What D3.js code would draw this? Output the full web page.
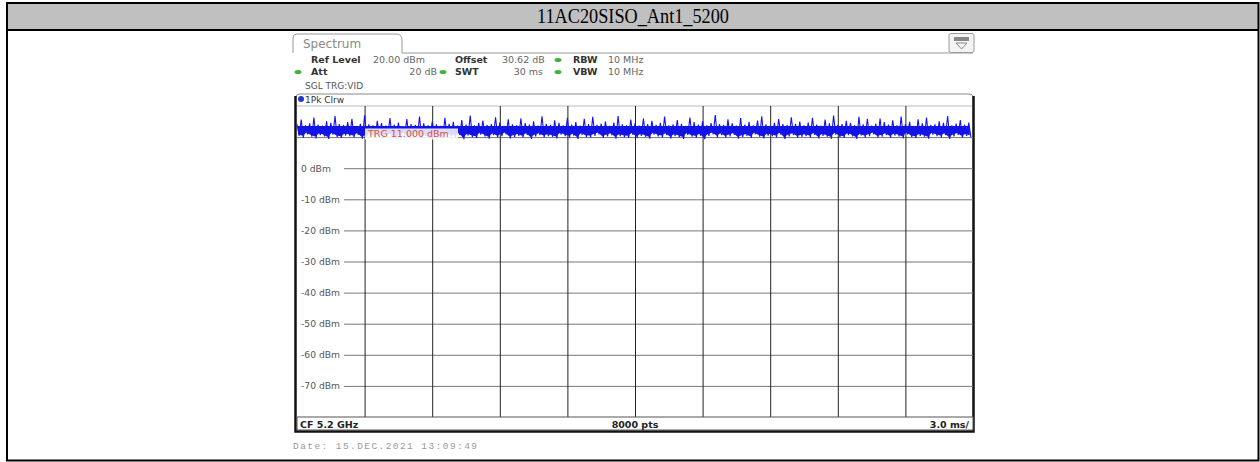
<!DOCTYPE html>
<html>
<head>
<meta charset="utf-8">
<script src="https://cdn.jsdelivr.net/npm/d3@7"></script>
<style>
  body { margin: 0; background: #fff; }
  svg { display: block; }
</style>
</head>
<body>
<svg id="chart" width="1260" height="462"></svg>
<script>
// title of the table cell
const title = "11AC20SISO_Ant1_5200";

// instrument settings shown in the header
const infoRow1 = [["Ref Level", "20.00 dBm"], ["Offset", "30.62 dB"], ["RBW", "10 MHz"]];
const infoRow2 = [["Att", "20 dB"], ["SWT", "30 ms"], ["VBW", "10 MHz"]];
const sweepMode = "SGL TRG:VID";
const traceName = "1Pk Clrw";
const trigLevel = 11.0;          // dBm
const footer = ["CF 5.2 GHz", "8000 pts", "3.0 ms/"];
const dateText = "Date: 15.DEC.2021   13:09:49";

// axes
const refLevel = 20, bottomLevel = -80;
const dbGrid = [10, 0, -10, -20, -30, -40, -50, -60, -70];
const dbLabels = [0, -10, -20, -30, -40, -50, -60, -70];
const sweepMs = 30;
const timeGrid = [3, 6, 9, 12, 15, 18, 21, 24, 27];

// trace: peak / minimum per display bucket (dBm)
const traceHi = [
  14.1,15.6,13.8,14.4,16.3,14.0,13.7,15.1,14.6,16.8,14.2,13.9,14.8,15.9,13.6,14.3,17.0,14.1,13.8,15.2,
  14.5,13.7,16.1,14.0,14.7,13.5,15.8,14.2,13.9,16.6,14.4,13.8,15.0,14.1,13.6,16.2,14.3,14.9,13.7,15.5,
  14.0,16.9,13.8,14.6,15.3,13.9,14.2,16.4,14.7,13.6,15.7,14.1,13.8,16.0,14.5,14.0,15.1,13.7,16.7,14.3,
  13.9,15.4,14.6,13.8,16.2,14.0,14.8,13.7,15.9,14.2,16.5,13.9,14.3,15.0,13.6,14.7,16.8,14.1,13.8,15.6,
  14.4,13.7,16.0,14.2,15.2,13.9,14.6,16.6,13.8,14.1,15.5,14.3,13.6,16.3,14.8,14.0,15.1,13.8,14.5,17.1,
  14.2,13.9,15.7,14.4,13.7,16.1,14.0,14.9,13.8,15.3,16.7,14.1,13.6,14.6,15.8,14.2,13.9,16.4,14.3,15.0,
  13.8,14.7,16.2,14.0,13.7,15.6,14.4,16.9,13.9,14.2,15.2,14.6,13.8,16.5,14.1,15.9,13.7,14.3,16.0,14.8,
  14.0,15.4,13.8,16.6,14.2,14.9,13.6,15.7,14.4,16.3,13.9,14.1,15.1,14.6,16.8,13.8,14.3,15.5,14.0,14.7
];
const traceLo = [
  10.4,9.8,10.9,10.1,9.6,10.6,10.2,9.4,10.8,10.0,9.7,10.5,10.3,9.9,10.7,9.5,10.1,10.6,9.8,10.3,
  9.9,10.7,10.2,9.5,10.4,10.9,9.7,10.1,10.6,9.8,10.3,9.4,10.8,10.0,9.6,10.5,10.2,9.9,10.7,9.3,
  10.5,10.0,9.7,10.8,10.2,9.5,10.6,9.9,10.3,10.9,9.6,10.1,10.4,9.8,10.7,9.4,10.2,10.6,9.9,10.3,
  10.1,9.6,10.8,10.3,9.8,10.5,9.4,10.7,10.0,9.9,10.4,10.9,9.7,10.2,10.6,9.5,10.3,10.0,9.8,10.7,
  9.7,10.4,10.1,9.5,10.8,10.2,9.9,10.6,9.6,10.3,10.0,9.4,10.7,10.1,9.8,10.5,9.3,10.4,10.9,9.9,
  10.6,9.8,10.2,10.7,9.5,10.0,10.4,9.7,10.9,10.1,9.6,10.5,10.3,9.9,10.8,9.4,10.2,10.6,9.8,10.1,
  10.3,9.9,10.7,9.6,10.4,10.1,9.5,10.8,10.0,9.7,10.6,10.2,9.4,10.5,9.9,10.3,10.9,9.8,10.1,10.6,
  9.8,10.5,10.2,9.6,10.9,10.0,9.7,10.4,10.1,9.5,10.8,10.3,9.9,10.6,9.4,10.2,10.7,9.8,10.4,10.0
];
const bodyTop = 13.6;   // upper edge of the solid part of the noise band (dBm)

const svg = d3.select("#chart");
const sans = "DejaVu Sans, sans-serif";
const blue = "#1414e6";

// ---- outer table cell ----
svg.append("rect")
  .attr("x", 7).attr("y", 3).attr("width", 1251.5).attr("height", 27)
  .attr("fill", "#c0c0c0");
svg.append("rect")
  .attr("x", 7).attr("y", 3).attr("width", 1251.5).attr("height", 457.5)
  .attr("fill", "none").attr("stroke", "#000").attr("stroke-width", 2);
svg.append("line")
  .attr("x1", 7).attr("x2", 1258.5).attr("y1", 30).attr("y2", 30)
  .attr("stroke", "#000").attr("stroke-width", 2);
svg.append("text")
  .attr("x", 633).attr("y", 23)
  .attr("text-anchor", "middle")
  .attr("font-family", "Liberation Serif, Times New Roman, serif")
  .attr("font-size", 20)
  .attr("textLength", 192).attr("lengthAdjust", "spacingAndGlyphs")
  .text(title);

// ---- scales ----
const x = d3.scaleLinear().domain([0, sweepMs]).range([297, 973]);
const y = d3.scaleLinear().domain([bottomLevel, refLevel]).range([417, 106]);
const plotW = x.range()[1] - x.range()[0];
const plotH = y.range()[0] - y.range()[1];

// ---- screenshot header ----
const hdr = svg.append("g");
hdr.append("path")
  .attr("d", "M293,53 L293,38 Q293,34 297,34 L396,34 Q402,34 402,40 L402,53 L973,53")
  .attr("fill", "none").attr("stroke", "#999").attr("stroke-width", 1);
hdr.append("text")
  .attr("x", 303).attr("y", 48)
  .attr("font-family", sans).attr("font-size", 12).attr("fill", "#8a8a8a")
  .text("Spectrum");

// small menu icon, top right
hdr.append("rect")
  .attr("x", 949).attr("y", 33.5).attr("width", 25).attr("height", 19).attr("rx", 2)
  .attr("fill", "#f4f4f4").attr("stroke", "#999");
hdr.append("rect")
  .attr("x", 954).attr("y", 37).attr("width", 15).attr("height", 4)
  .attr("fill", "#888");
hdr.append("path")
  .attr("d", "M956,43 L967,43 L961.5,49 Z")
  .attr("fill", "none").attr("stroke", "#888");

const labelCols = [311, 455, 573];
function infoRow(row, yy, valueAnchors) {
  row.forEach(function(d, i) {
    hdr.append("text")
      .attr("x", labelCols[i]).attr("y", yy)
      .attr("font-family", sans).attr("font-size", 9.5).attr("font-weight", "bold")
      .attr("fill", "#333").text(d[0]);
    hdr.append("text")
      .attr("x", valueAnchors[i][0]).attr("y", yy)
      .attr("text-anchor", valueAnchors[i][1])
      .attr("font-family", sans).attr("font-size", 9.5)
      .attr("fill", "#666").text(d[1]);
  });
}
infoRow(infoRow1, 63, [[373, "start"], [502, "start"], [608, "start"]]);
infoRow(infoRow2, 75, [[437, "end"], [543, "end"], [608, "start"]]);

// green status dots
[[558, 60], [298, 72], [443, 72], [558, 72]].forEach(function(p) {
  hdr.append("ellipse")
    .attr("cx", p[0]).attr("cy", p[1]).attr("rx", 3.5).attr("ry", 2)
    .attr("fill", "#3cb43c");
});
hdr.append("text")
  .attr("x", 305).attr("y", 89)
  .attr("font-family", sans).attr("font-size", 9).attr("fill", "#555")
  .text(sweepMode);

// ---- diagram frame ----
const frame = svg.append("g");
frame.append("path")
  .attr("d", "M295.5,431 L295.5,99 Q295.5,94 300,94 L969,94 Q973.5,94 973.5,99 L973.5,431")
  .attr("fill", "none").attr("stroke", "#888").attr("stroke-width", 1);
frame.append("circle")
  .attr("cx", 301).attr("cy", 99).attr("r", 3).attr("fill", "#2236c8");
frame.append("text")
  .attr("x", 305).attr("y", 102.5)
  .attr("font-family", sans).attr("font-size", 9).attr("fill", "#333")
  .text(traceName);
frame.append("line")
  .attr("x1", 297).attr("x2", 973).attr("y1", 106).attr("y2", 106)
  .attr("stroke", "#bbb");

// ---- grid via axes ----
const gridY = d3.axisRight(y).tickValues(dbGrid).tickSize(plotW).tickFormat("");
svg.append("g")
  .attr("transform", "translate(" + x.range()[0] + ",0)")
  .call(gridY)
  .call(g => g.select(".domain").remove())
  .call(g => g.selectAll("line").attr("stroke", "#777").attr("stroke-width", 1));

const gridX = d3.axisBottom(x).tickValues(timeGrid).tickSize(-plotH).tickFormat("");
svg.append("g")
  .attr("transform", "translate(0," + y.range()[0] + ")")
  .call(gridX)
  .call(g => g.select(".domain").remove())
  .call(g => g.selectAll("line").attr("stroke", "#222").attr("stroke-width", 1));

// level labels sit on the grid lines with a white background
const lbl = svg.append("g").selectAll("g")
  .data(dbLabels)
  .join("g")
  .attr("transform", d => "translate(297," + y(d) + ")");
lbl.append("rect")
  .attr("x", 0).attr("y", -5).attr("width", 47).attr("height", 10)
  .attr("fill", "#fff");
lbl.append("text")
  .attr("x", 4).attr("y", 3.5)
  .attr("font-family", sans).attr("font-size", 9.2).attr("fill", "#555")
  .text(d => d + " dBm");

// ---- trace ----
const dt = sweepMs / traceHi.length;

// solid body of the noise band
svg.append("path")
  .datum(traceHi.map((v, i) => [i * dt + dt / 4, Math.min(v, bodyTop), traceLo[i]]))
  .attr("fill", blue)
  .attr("d", d3.area().x(d => x(d[0])).y1(d => y(d[1])).y0(d => y(d[2] + 0.6)));

// peaks and dips
const pts = [];
traceHi.forEach(function(v, i) {
  pts.push([i * dt, v]);
  pts.push([i * dt + dt / 2, traceLo[i]]);
});
svg.append("path")
  .datum(pts)
  .attr("fill", "none")
  .attr("stroke", blue)
  .attr("stroke-width", 1.1)
  .attr("d", d3.line().x(d => x(d[0])).y(d => y(d[1])));

// trigger label
svg.append("rect")
  .attr("x", 365).attr("y", y(trigLevel) - 5.5).attr("width", 93).attr("height", 11)
  .attr("fill", "#fff").attr("opacity", 0.85);
svg.append("text")
  .attr("x", 368).attr("y", y(trigLevel) + 3.5)
  .attr("font-family", sans).attr("font-size", 9.5).attr("fill", "#d8503c")
  .text("TRG  " + trigLevel.toFixed(3) + " dBm");

// ---- footer ----
svg.append("rect")
  .attr("x", 297).attr("y", 417).attr("width", plotW).attr("height", 13)
  .attr("fill", "#fff").attr("stroke", "#555");
svg.append("text").attr("x", 300).attr("y", 427.5)
  .attr("font-family", sans).attr("font-size", 9.5).attr("font-weight", "bold")
  .attr("fill", "#222").text(footer[0]);
svg.append("text").attr("x", x(sweepMs / 2)).attr("y", 427.5).attr("text-anchor", "middle")
  .attr("font-family", sans).attr("font-size", 9.5).attr("font-weight", "bold")
  .attr("fill", "#222").text(footer[1]);
svg.append("text").attr("x", 969).attr("y", 427.5).attr("text-anchor", "end")
  .attr("font-family", sans).attr("font-size", 9.5).attr("font-weight", "bold")
  .attr("fill", "#222").text(footer[2]);

// thick side and bottom edges of the diagram
frame.append("path")
  .attr("d", "M295.5,96 L295.5,431.5 L973.5,431.5 L973.5,96")
  .attr("fill", "none").attr("stroke", "#111").attr("stroke-width", 2.5);

svg.append("text")
  .attr("x", 293).attr("y", 449)
  .attr("font-family", "Liberation Mono, monospace").attr("font-size", 9.5)
  .attr("fill", "#9a9a9a")
  .attr("textLength", 184).attr("lengthAdjust", "spacing")
  .text(dateText);
</script>
</body>
</html>
